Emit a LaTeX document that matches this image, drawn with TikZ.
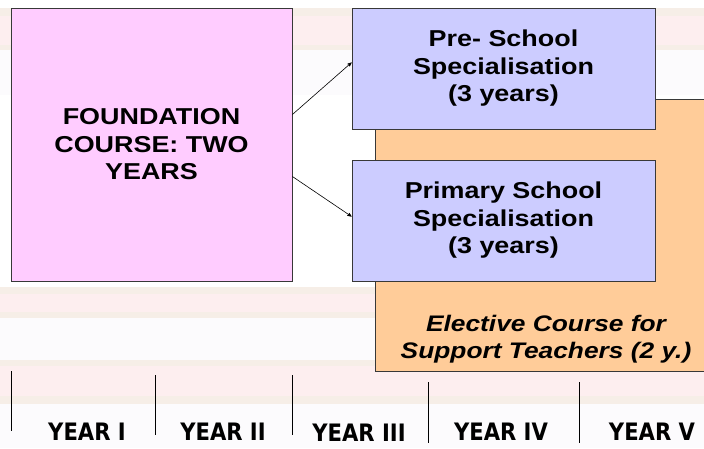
\documentclass[tikz,border=0pt]{standalone}
\usepackage{fontspec}
\setmainfont[FakeStretch=1.17]{Liberation Sans}
\newfontfamily\yearfont[FakeStretch=0.88]{DejaVu Sans}
\usepackage{tikz}
\usetikzlibrary{arrows}

\definecolor{bgpink}{HTML}{FDEEEF}
\definecolor{bgbeige}{HTML}{F6EEE7}
\definecolor{bglav}{HTML}{FCFBFD}
\definecolor{foundfill}{HTML}{FFCCFF}
\definecolor{specfill}{HTML}{CCCCFF}
\definecolor{electfill}{HTML}{FFCC99}
\definecolor{edge}{HTML}{383838}

\begin{document}
\begin{tikzpicture}[x=1pt,y=-1pt,->,>=stealth',semithick]
	\tikzstyle{box}=[draw=edge,line width=0.8pt,rectangle,inner sep=0pt,align=center,
	                 font=\fontsize{23}{27.5}\selectfont\bfseries]
	\tikzstyle{year}=[anchor=base,inner sep=0pt,font=\yearfont\fontsize{24}{28}\selectfont\bfseries]
	\tikzstyle{tick}=[-,black,line width=0.8pt]

	\useasboundingbox (0,0) rectangle (704,448);
	\fill[white] (0,0) rectangle (704,448);
	\foreach \ya/\yb/\col in {8/16/bgbeige, 16/45/bgpink, 45/50/bgbeige, 50/95/bglav,
	                          287/294/bgbeige, 294/312/bgpink, 312/318/bgbeige, 318/360/bglav,
	                          360/366/bgbeige, 366/396/bgpink, 396/404/bgbeige, 404/448/bglav}
		\fill[\col] (0,\ya) rectangle (704,\yb);

	\node[box,fill=electfill,minimum width=331pt,minimum height=272pt] (elect) at (540.5,235) {};
	\node[inner sep=0pt,align=center,font=\fontsize{22.5}{27}\selectfont\bfseries\itshape]
	     (electlbl) at (546,339) {Elective Course for\\Support Teachers (2 y.)};

	\node[box,fill=foundfill,minimum width=281pt,minimum height=273pt] (found) at (151.5,144.5)
	     {FOUNDATION\\COURSE: TWO\\YEARS};
	\node[box,fill=specfill,minimum width=303pt,minimum height=121pt] (pre) at (503.5,68.5)
	     {Pre- School\\Specialisation\\(3 years)};
	\node[box,fill=specfill,minimum width=303pt,minimum height=121pt] (prim) at (503.5,220.5)
	     {\raisebox{4pt}{\parbox{300pt}{\centering Primary School\\Specialisation\\(3 years)}}};

	\draw ([yshift=30pt]found.east) -- ([yshift=6pt]pre.west);
	\draw ([yshift=-32pt]found.east) -- ([yshift=4pt]prim.west);

	% year scale
	\coordinate (t1a) at (11,371);  \coordinate (t1b) at (11,431);
	\coordinate (t2a) at (155,375); \coordinate (t2b) at (155,435);
	\coordinate (t3a) at (292,375); \coordinate (t3b) at (292,435);
	\coordinate (t4a) at (428,382); \coordinate (t4b) at (428,443);
	\coordinate (t5a) at (579,382); \coordinate (t5b) at (579,443);
	\foreach \i in {1,...,5}
		\draw[tick] (t\i a) -- (t\i b);

	\node[year] (y1) at (87,440)  {YEAR I};
	\node[year] (y2) at (223,440) {YEAR II};
	\node[year] (y3) at (359,441) {YEAR III};
	\node[year] (y4) at (501,440.5) {YEAR IV};
	\node[year] (y5) at (652,440.5) {YEAR V};
\end{tikzpicture}
\end{document}
